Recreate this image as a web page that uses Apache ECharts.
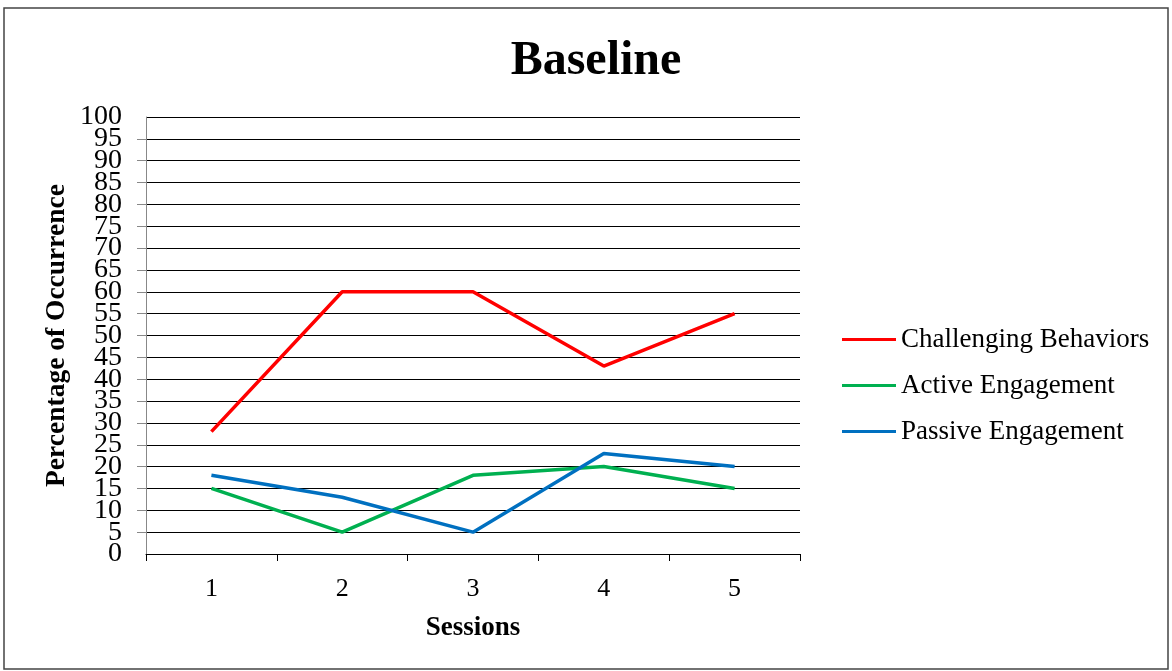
<!DOCTYPE html>
<html>
<head>
<meta charset="utf-8">
<script src="https://cdn.jsdelivr.net/npm/echarts@6/dist/echarts.min.js"></script>
<style>
  html, body { margin: 0; padding: 0; background: #fff; }
  #chart { width: 1172px; height: 671px; }
</style>
</head>
<body>
<div id="chart"></div>
<script>
// Session numbers on the horizontal axis
const sessions = ['1', '2', '3', '4', '5'];

// Percentage of occurrence per session, one array per behaviour
const challengingBehaviors = [28, 60, 60, 43, 55];
const activeEngagement = [15, 5, 18, 20, 15];
const passiveEngagement = [18, 13, 5, 23, 20];

const seriesNames = ['Challenging Behaviors', 'Active Engagement', 'Passive Engagement'];
const seriesColors = ['#FF0000', '#00B050', '#0070C0'];

const serif = '"Liberation Serif", "Times New Roman", "DejaVu Serif", serif';

const chart = echarts.init(document.getElementById('chart'), null, { renderer: 'canvas' });

const lineSeries = [challengingBehaviors, activeEngagement, passiveEngagement].map((values, i) => ({
  name: seriesNames[i],
  type: 'line',
  yAxisIndex: 0,
  data: values,
  symbol: 'none',
  smooth: false,
  color: seriesColors[i],
  lineStyle: { width: 3.5, color: seriesColors[i] },
  emphasis: { disabled: true }
}));

const yLabelStyle = { fontFamily: serif, fontSize: 28, color: '#000', margin: 24 };

chart.setOption({
  animation: false,
  backgroundColor: '#ffffff',
  title: {
    text: 'Baseline',
    left: 591,
    textAlign: 'center',
    top: 33,
    textStyle: { fontFamily: serif, fontWeight: 'bold', fontSize: 48, color: '#000' }
  },
  legend: {
    orient: 'vertical',
    left: 837,
    top: 321,
    itemGap: 19,
    itemWidth: 54,
    itemHeight: 3,
    icon: 'rect',
    data: seriesNames,
    textStyle: { fontFamily: serif, fontSize: 27, color: '#000' }
  },
  grid: {
    left: 146,
    right: 372,
    top: 117,
    bottom: 117,
    containLabel: false
  },
  xAxis: {
    type: 'category',
    data: sessions,
    boundaryGap: true,
    name: 'Sessions',
    nameLocation: 'middle',
    nameGap: 61,
    nameTextStyle: { fontFamily: serif, fontWeight: 'bold', fontSize: 27, color: '#000' },
    axisLine: { lineStyle: { color: '#000', width: 1 } },
    axisTick: { show: true, alignWithLabel: false, length: 7, lineStyle: { color: '#000' } },
    axisLabel: { fontFamily: serif, fontSize: 26, color: '#000', margin: 22 },
    splitLine: { show: false }
  },
  yAxis: [
    {
      // main percentage scale: grid lines, ticks and the 5..95 labels
      type: 'value',
      position: 'left',
      min: 0,
      max: 100,
      interval: 5,
      name: 'Percentage of Occurrence',
      nameLocation: 'middle',
      nameGap: 75,
      nameTextStyle: { fontFamily: serif, fontWeight: 'bold', fontSize: 27.5, color: '#000' },
      axisLine: { show: true, lineStyle: { color: '#888', width: 1 } },
      axisTick: { show: true, length: 9, lineStyle: { color: '#888' } },
      axisLabel: yLabelStyle,
      splitLine: { show: true, lineStyle: { color: '#000', width: 1 } }
    },
    {
      // end labels 0 and 100 of the same scale
      type: 'value',
      position: 'left',
      offset: 0,
      min: 0,
      max: 100,
      interval: 100,
      axisLine: { show: false },
      axisTick: { show: false },
      axisLabel: Object.assign({ showMinLabel: true, showMaxLabel: true }, yLabelStyle),
      splitLine: { show: false }
    }
  ],
  graphic: [{
    type: 'rect',
    shape: { x: 4, y: 8, width: 1164, height: 661 },
    style: { fill: 'none', stroke: '#444', lineWidth: 1.5 },
    silent: true,
    z: -1
  }],
  series: lineSeries
});
</script>
</body>
</html>
